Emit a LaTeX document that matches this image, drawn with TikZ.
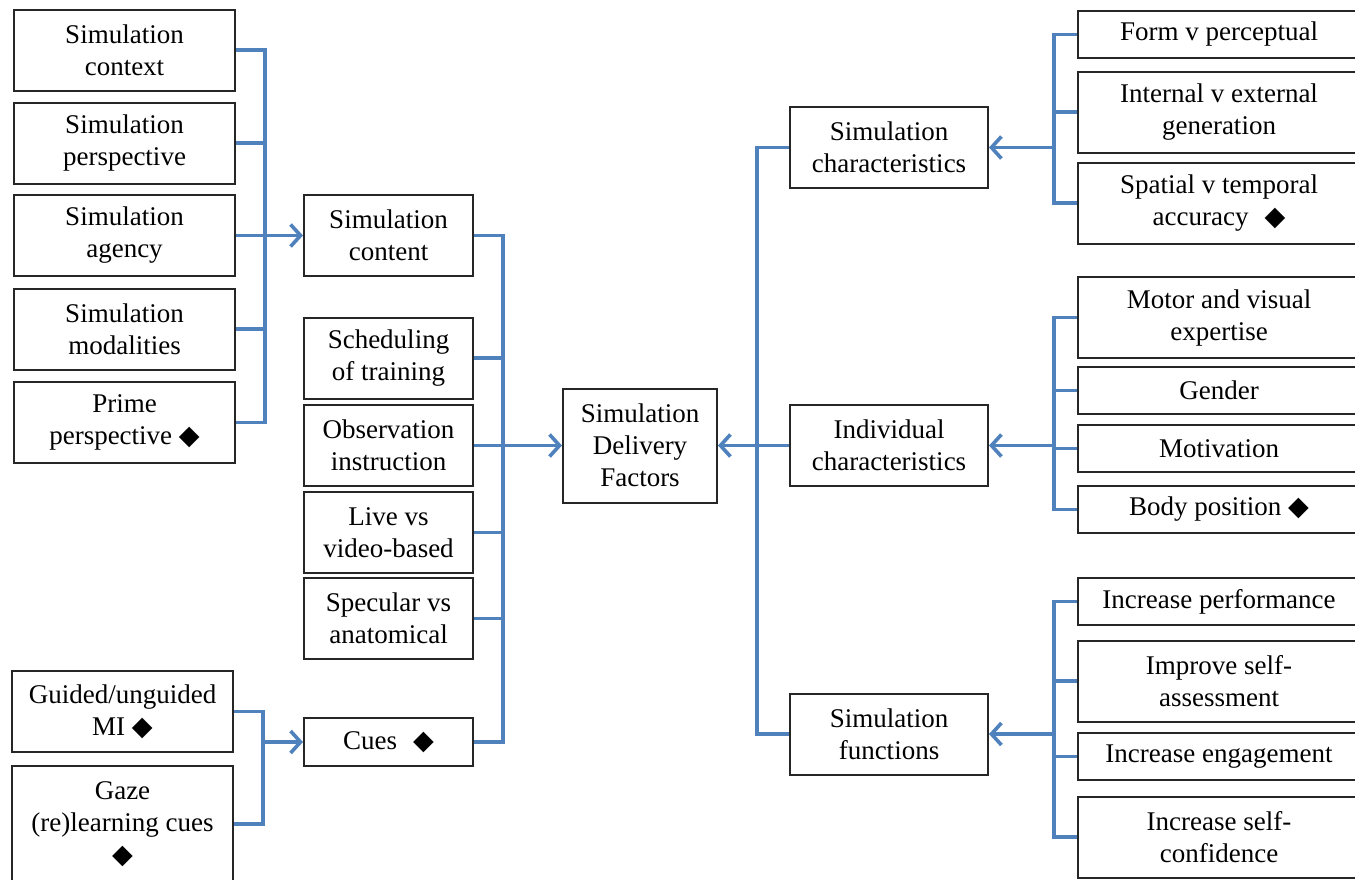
\documentclass[tikz,border=0pt]{standalone}
\usepackage{fontspec}
\setmainfont{Liberation Serif}
\newfontfamily\dejavu{DejaVu Sans}
\newcommand\dmd{{\dejavu\symbol{"25C6}}}
\usetikzlibrary{arrows.meta,positioning}
\definecolor{linkblue}{RGB}{79,129,189}

\begin{document}
\begin{tikzpicture}[x=0.5pt, y=-0.5pt, font=\fontsize{13.5}{16}\selectfont,
  box/.style={draw=black!85, line width=1pt, align=center, inner sep=0pt, minimum width=#1, minimum height=40.5pt},
  box/.default={110.5pt}, thin/.style={minimum height=23.5pt},
  link/.style={draw=linkblue, line width=1.8pt}, >={Straight Barb[length=5pt,width=11pt]}]
\useasboundingbox (0,0) rectangle (1355,879);
% left column
\node[box] (ctx) at (124.5,50) {Simulation\\context};
\node[box] (persp) at (124.5,143) {Simulation\\perspective};
\node[box] (agency) at (124.5,235.5) {Simulation\\agency};
\node[box] (modal) at (124.5,329) {Simulation\\modalities};
\node[box] (prime) at (124.5,422.5) {Prime\\perspective \dmd};
\node[box] (guided) at (122.5,711.5) {Guided/unguided\\MI \dmd};
\node[box, minimum height=58pt] (gaze) at (122.5,824) {Gaze\\(re)learning cues\\\dmd};
% middle column
\node[box=84.5pt] (content) at (388.5,235.5) {Simulation\\content};
\node[box=84.5pt] (sched) at (388.5,358) {Scheduling\\of training};
\node[box=84.5pt] (obs) at (388.5,445.5) {Observation\\instruction};
\node[box=84.5pt] (live) at (388.5,532.5) {Live vs\\video-based};
\node[box=84.5pt] (spec) at (388.5,618.5) {Specular vs\\anatomical};
\node[box=84.5pt, minimum height=24pt] (cues) at (388.5,742) {Cues\hspace{8pt}\dmd};
\node[box=77pt, minimum height=57pt] (sdf) at (640,445.5) {Simulation\\Delivery\\Factors};
% right middle column
\node[box=99pt] (simchar) at (889,147.5) {Simulation\\characteristics};
\node[box=99pt] (indiv) at (889,445.5) {Individual\\characteristics};
\node[box=99pt] (simfun) at (889,734) {Simulation\\functions};
% right column
\node[box=141pt, thin] (form) at (1219,34.5) {Form v perceptual};
\node[box=141pt] (intern) at (1219,112) {Internal v external\\generation};
\node[box=141pt] (spatial) at (1219,203) {Spatial v temporal\\accuracy\hspace{8pt}\dmd};
\node[box=141pt] (motor) at (1219,317.5) {Motor and visual\\expertise};
\node[box=141pt, thin] (gender) at (1219,390.5) {Gender};
\node[box=141pt, thin] (motiv) at (1219,448.5) {Motivation};
\node[box=141pt, thin] (body) at (1219,509.5) {Body position \dmd};
\node[box=141pt, thin] (perf) at (1219,601.5) {Increase performance};
\node[box=141pt] (improve) at (1219,681) {Improve self-\\assessment};
\node[box=141pt, thin] (engage) at (1219,756.5) {Increase engagement};
\node[box=141pt] (confid) at (1219,837) {Increase self-\\confidence};
% bus points
\coordinate (b1) at (265,235.5);
\coordinate (b2) at (503,445.5);
\coordinate (b3) at (263,742);
\coordinate (b4) at (757,445.5);
\coordinate (b5) at (1054,147.5);
\coordinate (b6) at (1054,445.5);
\coordinate (b7) at (1054,734);
% connectors
\foreach \n in {ctx,persp,agency,modal,prime} \draw[link] (\n.east) -| (b1);
\draw[link,->] (b1) -- (content.west);
\foreach \n in {guided,gaze} \draw[link] (\n.east) -| (b3);
\draw[link,->] (b3) -- (cues.west);
\foreach \n in {content,sched,obs,live,spec,cues} \draw[link] (\n.east) -| (b2);
\draw[link,->] (b2) -- (sdf.west);
\foreach \n in {simchar,indiv,simfun} \draw[link] (\n.west) -| (b4);
\draw[link,->] (b4) -- (sdf.east);
\foreach \n in {form,intern,spatial} \draw[link] (\n.west) -| (b5);
\draw[link,->] (b5) -- (simchar.east);
\foreach \n in {motor,gender,motiv,body} \draw[link] (\n.west) -| (b6);
\draw[link,->] (b6) -- (indiv.east);
\foreach \n in {perf,improve,engage,confid} \draw[link] (\n.west) -| (b7);
\draw[link,->] (b7) -- (simfun.east);
\end{tikzpicture}
\end{document}
